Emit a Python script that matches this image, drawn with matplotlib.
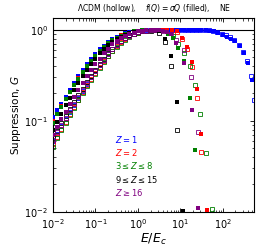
import matplotlib
matplotlib.use("Agg")
import matplotlib.pyplot as plt

# shared energy grid for the rising part (E/E_c)
E_rise = [0.01, 0.0126, 0.0158, 0.02, 0.0251, 0.0316, 0.0398, 0.0501, 0.0631, 0.0794,
          0.1, 0.126, 0.158, 0.2, 0.251, 0.316, 0.398, 0.501, 0.631, 0.794,
          1.0, 1.26, 1.58, 2.0]

# rising part, filled = f(Q), hollow = LCDM
blue_f_rise = [0.11, 0.13, 0.155, 0.185, 0.22, 0.26, 0.31, 0.36, 0.42, 0.48, 0.54, 0.61,
               0.67, 0.73, 0.79, 0.84, 0.88, 0.92, 0.95, 0.97, 0.98, 0.99, 1.0, 1.0]
blue_h_rise = [0.06, 0.072, 0.087, 0.104, 0.125, 0.15, 0.18, 0.215, 0.255, 0.30, 0.35, 0.41,
               0.47, 0.54, 0.61, 0.68, 0.75, 0.81, 0.87, 0.91, 0.95, 0.97, 0.99, 1.0]
red_f_rise = [0.10, 0.12, 0.145, 0.175, 0.21, 0.25, 0.295, 0.345, 0.40, 0.46, 0.52, 0.59,
              0.65, 0.71, 0.77, 0.82, 0.87, 0.90, 0.93, 0.96, 0.98, 0.99, 1.0, 1.0]
red_h_rise = [0.055, 0.067, 0.082, 0.098, 0.118, 0.142, 0.17, 0.205, 0.245, 0.285, 0.335, 0.39,
              0.45, 0.52, 0.59, 0.66, 0.73, 0.79, 0.85, 0.90, 0.93, 0.96, 0.98, 1.0]
green_f_rise = [0.095, 0.118, 0.143, 0.172, 0.205, 0.245, 0.29, 0.34, 0.40, 0.46, 0.52, 0.58,
                0.65, 0.71, 0.77, 0.82, 0.86, 0.90, 0.93, 0.96, 0.97, 0.99, 0.99, 1.0]
green_h_rise = [0.052, 0.064, 0.079, 0.095, 0.115, 0.14, 0.168, 0.20, 0.24, 0.28, 0.33, 0.385,
                0.445, 0.51, 0.58, 0.65, 0.72, 0.78, 0.84, 0.89, 0.93, 0.96, 0.98, 0.99]
black_f_rise = [0.08, 0.098, 0.12, 0.148, 0.18, 0.22, 0.26, 0.31, 0.365, 0.42, 0.48, 0.55,
                0.61, 0.68, 0.74, 0.79, 0.84, 0.88, 0.92, 0.95, 0.97, 0.98, 0.99, 0.99]
black_h_rise = [0.065, 0.078, 0.094, 0.112, 0.135, 0.16, 0.19, 0.225, 0.265, 0.31, 0.36, 0.42,
                0.48, 0.55, 0.62, 0.69, 0.76, 0.82, 0.87, 0.91, 0.95, 0.97, 0.98, 0.98]
purple_f_rise = [0.07, 0.085, 0.104, 0.126, 0.152, 0.183, 0.22, 0.26, 0.31, 0.36, 0.42, 0.48,
                 0.55, 0.62, 0.69, 0.75, 0.81, 0.86, 0.90, 0.93, 0.96, 0.98, 0.99, 0.99]
purple_h_rise = [0.062, 0.075, 0.09, 0.108, 0.13, 0.155, 0.185, 0.22, 0.26, 0.305, 0.355, 0.41,
                 0.47, 0.54, 0.61, 0.68, 0.75, 0.81, 0.86, 0.90, 0.94, 0.96, 0.98, 0.99]

# high-energy tails
blue_f_E = [2.51, 3.16, 3.98, 5.01, 6.31, 7.94, 10, 12.6, 15.8, 20, 25.1, 31.6, 39.8, 50.1,
            63.1, 79.4, 100, 126, 158, 200, 251, 316, 398, 501]
blue_f_G = [1, 1, 1, 1, 1, 1, 1, 1, 1, 1, 1, 1, 0.99, 0.98,
            0.96, 0.92, 0.88, 0.84, 0.79, 0.75, 0.67, 0.56, 0.43, 0.28]
blue_h_E = [2.4, 3.0, 3.8, 4.8, 6.0, 7.6, 9.5, 12, 15, 19, 24, 30, 38, 48,
            60, 75, 95, 120, 150, 190, 240, 300, 380, 475, 540]
blue_h_G = [1, 1, 1, 1, 1, 1, 1, 1, 1, 1, 1, 1, 1, 0.99,
            0.98, 0.95, 0.91, 0.88, 0.84, 0.78, 0.68, 0.57, 0.45, 0.31, 0.17]

red_f_E = [2.5, 3.2, 4.0, 5.0, 6.3, 8.3, 11, 14.2, 18.6, 24.6, 31.6, 41.7]
red_f_G = [1, 1, 1, 1, 1, 0.97, 0.82, 0.65, 0.44, 0.225, 0.071, 0.0105]
red_h_E = [2.5, 3.2, 4.0, 5.0, 6.3, 8.3, 11, 14.2, 18.6, 24.6, 31.6]
red_h_G = [1, 1, 1, 1, 0.99, 0.95, 0.80, 0.62, 0.39, 0.177, 0.046]

green_f_E = [2.5, 3.2, 4.0, 5.1, 6.7, 8.8, 12, 16.6, 21.8]
green_f_G = [1, 0.99, 0.97, 0.90, 0.81, 0.63, 0.45, 0.18, 0.048]
green_h_E = [2.5, 3.2, 4.0, 5.1, 6.7, 8.8, 12, 16.6, 21.8, 29, 39.8, 55]
green_h_G = [1, 1, 0.99, 0.93, 0.86, 0.70, 0.56, 0.40, 0.25, 0.12, 0.044, 0.0107]

black_f_E = [2.5, 3.2, 4.3, 6.0, 8.3, 11.6]
black_f_G = [0.99, 0.96, 0.79, 0.51, 0.163, 0.0102]
black_h_E = [2.5, 3.2, 4.3, 6.0, 8.3]
black_h_G = [0.99, 0.93, 0.74, 0.40, 0.079]

purple_f_E = [2.5, 3.2, 4.0, 5.0, 6.0, 8.0, 12, 18.5, 26]
purple_f_G = [0.99, 0.99, 0.98, 0.95, 0.90, 0.72, 0.43, 0.13, 0.011]
purple_h_E = [2.5, 3.2, 4.0, 5.0, 6.0, 8.0, 12, 17.8, 26]
purple_h_G = [0.99, 0.99, 0.98, 0.96, 0.92, 0.78, 0.60, 0.30, 0.076]

labels = [r'$Z=1$', r'$Z=2$', r'$3\leq Z\leq 8$', r'$9\leq Z\leq 15$', r'$Z\geq 16$']
colors = ['blue', 'red', 'green', 'black', 'purple']

groups = [
    (blue_f_rise, blue_h_rise, blue_f_E, blue_f_G, blue_h_E, blue_h_G),
    (red_f_rise, red_h_rise, red_f_E, red_f_G, red_h_E, red_h_G),
    (green_f_rise, green_h_rise, green_f_E, green_f_G, green_h_E, green_h_G),
    (black_f_rise, black_h_rise, black_f_E, black_f_G, black_h_E, black_h_G),
    (purple_f_rise, purple_h_rise, purple_f_E, purple_f_G, purple_h_E, purple_h_G),
]

fig = plt.figure(figsize=(2.6, 2.49), dpi=100)
ax = fig.add_axes([0.204, 0.149, 0.773, 0.779])

ax.axhline(1.0, color='black', lw=0.8, zorder=1)

for (f_rise, h_rise, fE, fG, hE, hG), c in zip(groups, colors):
    ax.plot(E_rise + hE, h_rise + hG, 's', ms=2.4, mfc='none', mec=c, mew=0.6, zorder=2)
    ax.plot(E_rise + fE, f_rise + fG, 's', ms=2.4, color=c, mew=0, zorder=3)

ax.set_xscale('log')
ax.set_yscale('log')
ax.set_xlim(1e-2, 5.5e2)
ax.set_ylim(1e-2, 1.35)

ax.tick_params(which='both', direction='in', top=True, right=True, labelsize=7)
ax.tick_params(which='major', length=3, width=0.6)
ax.tick_params(which='minor', length=1.8, width=0.5)
for sp in ax.spines.values():
    sp.set_linewidth(0.8)

ax.set_xlabel(r'$E/E_c$', fontsize=9, labelpad=1)
ax.set_ylabel(r'Suppression, $G$', fontsize=7.5, labelpad=1)
ax.set_title(r'$\Lambda$CDM (hollow),    $f(Q)=\sigma Q$ (filled),    NE',
             fontsize=5.5, pad=5)

for i, (lab, c) in enumerate(zip(labels, colors)):
    ax.text(0.31, 0.375 - i * 0.069, lab, color=c, fontsize=6,
            transform=ax.transAxes, va='center', ha='left')

fig.savefig('out.png', dpi=100)
